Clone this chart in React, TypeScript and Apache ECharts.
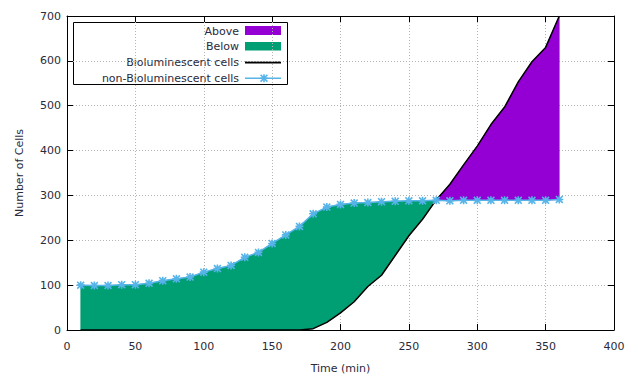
import React, { useEffect, useRef } from "react";
import * as echarts from "echarts";

const times = [10, 20, 30, 40, 50, 60, 70, 80, 90, 100, 110, 120, 130, 140, 150, 160, 170, 180, 190, 200, 210, 220, 230, 240, 250, 260, 270, 280, 290, 300, 310, 320, 330, 340, 350, 360];
const bioCells = [0, 0, 0, 0, 0, 0, 0, 0, 0, 0, 0, 0, 0, 0, 0, 0, 0, 3, 17, 38, 63, 97, 122, 166, 210, 247, 290, 325, 368, 410, 458, 497, 553, 598, 630, 700];
const nonBioCells = [100, 99, 99, 101, 101, 104, 110, 114, 118, 129, 137, 144, 162, 173, 193, 212, 231, 259, 274, 280, 283, 284, 286, 287, 288, 288, 289, 288, 289, 289, 289, 289, 289, 289, 289, 291];
const xTicks = { min: 0, max: 400, interval: 50 };
const yTicks = { min: 0, max: 700, interval: 100 };
const legendLabels = ["Above", "Below", "Bioluminescent cells", "non-Bioluminescent cells"];

const PURPLE = "#9400d3";
const GREEN = "#009e73";
const BLUE = "#56b4e9";
const FONT = "DejaVu Sans";
const TXT = "#2a2a3a";

const MARK_D = "M4,0 L6,0 L6,10 L4,10 Z M0,4 L10,4 L10,6 L0,6 Z M0,1.4 L1.4,0 L10,8.6 L8.6,10 Z M8.6,0 L10,1.4 L1.4,10 L0,8.6 Z";

type Region = { sign: number; top: number[][]; bot: number[][] };

function buildRegions(): Region[] {
  const regions: Region[] = [];
  const n = times.length;
  let cur: Region | null = null;
  for (let i = 0; i < n; i++) {
    const d = nonBioCells[i] - bioCells[i];
    const s = d >= 0 ? 1 : -1;
    if (!cur) cur = { sign: s, top: [], bot: [] };
    cur.top.push([times[i], nonBioCells[i]]);
    cur.bot.push([times[i], bioCells[i]]);
    if (i < n - 1) {
      const d2 = nonBioCells[i + 1] - bioCells[i + 1];
      const s2 = d2 >= 0 ? 1 : -1;
      if (s2 !== s) {
        const f = d / (d - d2);
        const tc = times[i] + f * (times[i + 1] - times[i]);
        const vc = bioCells[i] + f * (bioCells[i + 1] - bioCells[i]);
        cur.top.push([tc, vc]);
        cur.bot.push([tc, vc]);
        regions.push(cur);
        cur = { sign: s2, top: [[tc, vc]], bot: [[tc, vc]] };
      }
    }
  }
  if (cur) regions.push(cur);
  return regions;
}

export default function App() {
  const ref = useRef<HTMLDivElement>(null);
  useEffect(() => {
    if (!ref.current) return;
    try {
      echarts.graphic.registerShape("asterMark", echarts.graphic.extendPath(MARK_D, {}) as any);
    } catch (e) {}
    const chart = echarts.init(ref.current, undefined, { renderer: "svg" });
    const axisCommon = {
      axisLine: { show: true, onZero: false, lineStyle: { color: "#000", width: 1 } },
      axisTick: { show: true, inside: true, length: 6, lineStyle: { color: "#000" } },
    };
    const option: any = {
      animation: false,
      backgroundColor: "#fff",
      grid: { left: 67, right: 15, top: 16, bottom: 48, containLabel: false },
      xAxis: [
        {
          type: "value",
          ...xTicks,
          position: "bottom",
          ...axisCommon,
          axisLabel: { color: TXT, fontFamily: FONT, fontSize: 11, margin: 11 },
          splitLine: { show: true, lineStyle: { color: "#b4b4b4", type: [1, 2], width: 1 } },
          name: "Time (min)",
          nameLocation: "middle",
          nameGap: 33,
          nameTextStyle: { color: TXT, fontFamily: FONT, fontSize: 11 },
        },
        {
          type: "value",
          ...xTicks,
          position: "top",
          ...axisCommon,
          axisLabel: { show: false },
          splitLine: { show: false },
        },
      ],
      yAxis: [
        {
          type: "value",
          ...yTicks,
          position: "left",
          ...axisCommon,
          axisLabel: { color: TXT, fontFamily: FONT, fontSize: 11, margin: 6 },
          splitLine: { show: true, lineStyle: { color: "#b4b4b4", type: [1, 2], width: 1 } },
          name: "Number of Cells",
          nameLocation: "middle",
          nameGap: 42,
          nameTextStyle: { color: TXT, fontFamily: FONT, fontSize: 11 },
        },
        {
          type: "value",
          ...yTicks,
          position: "right",
          ...axisCommon,
          axisLabel: { show: false },
          splitLine: { show: false },
        },
      ],
      series: [
        {
          type: "custom",
          xAxisIndex: 0,
          yAxisIndex: 0,
          silent: true,
          z: 1,
          data: [[0, 0]],
          renderItem: (_params: any, api: any) => {
            const regions = buildRegions();
            return {
              type: "group",
              children: regions.map((r) => {
                const pts = r.top.concat(r.bot.slice().reverse()).map((p) => api.coord(p));
                const c = r.sign > 0 ? GREEN : PURPLE;
                return { type: "polygon", shape: { points: pts }, style: { fill: c, stroke: c, lineWidth: 0.5 } };
              }),
            };
          },
        },
        {
          name: legendLabels[2],
          type: "line",
          z: 3,
          data: times.map((t, i) => [t, bioCells[i]]),
          showSymbol: false,
          symbol: "none",
          lineStyle: { color: "#000", width: 1.5 },
        },
        {
          name: legendLabels[3],
          type: "line",
          z: 4,
          data: times.map((t, i) => [t, nonBioCells[i]]),
          symbol: "path://" + MARK_D,
          symbolSize: 8,
          itemStyle: { color: BLUE },
          lineStyle: { color: BLUE, width: 1.5 },
        },
      ],
      graphic: [
        {
          type: "group",
          z: 100,
          children: [
            { type: "rect", shape: { x: 73.5, y: 22.5, width: 214, height: 62 }, style: { fill: "#fff", stroke: "#000", lineWidth: 1 } },
            ...legendLabels.map((l, i) => ({
              type: "text",
              x: 239,
              y: 31 + i * 15.7,
              style: { text: l, fill: TXT, font: `11px "${FONT}"`, align: "right", verticalAlign: "middle" },
            })),
            { type: "rect", shape: { x: 245, y: 26, width: 36, height: 9 }, style: { fill: PURPLE } },
            { type: "rect", shape: { x: 245, y: 42, width: 36, height: 8.5 }, style: { fill: GREEN } },
            { type: "line", shape: { x1: 245, y1: 62.4, x2: 281, y2: 62.4 }, style: { stroke: "#000", lineWidth: 2 } },
            { type: "line", shape: { x1: 245, y1: 78.2, x2: 281, y2: 78.2 }, style: { stroke: BLUE, lineWidth: 1.5 } },
            { type: "asterMark", x: 260, y: 74.2, scaleX: 0.8, scaleY: 0.8, style: { fill: BLUE } },
          ],
        },
      ],
    };
    chart.setOption(option);
    return () => chart.dispose();
  }, []);
  return <div ref={ref} style={{ position: "fixed", left: 0, top: 0, width: 629, height: 379 }} />;
}
